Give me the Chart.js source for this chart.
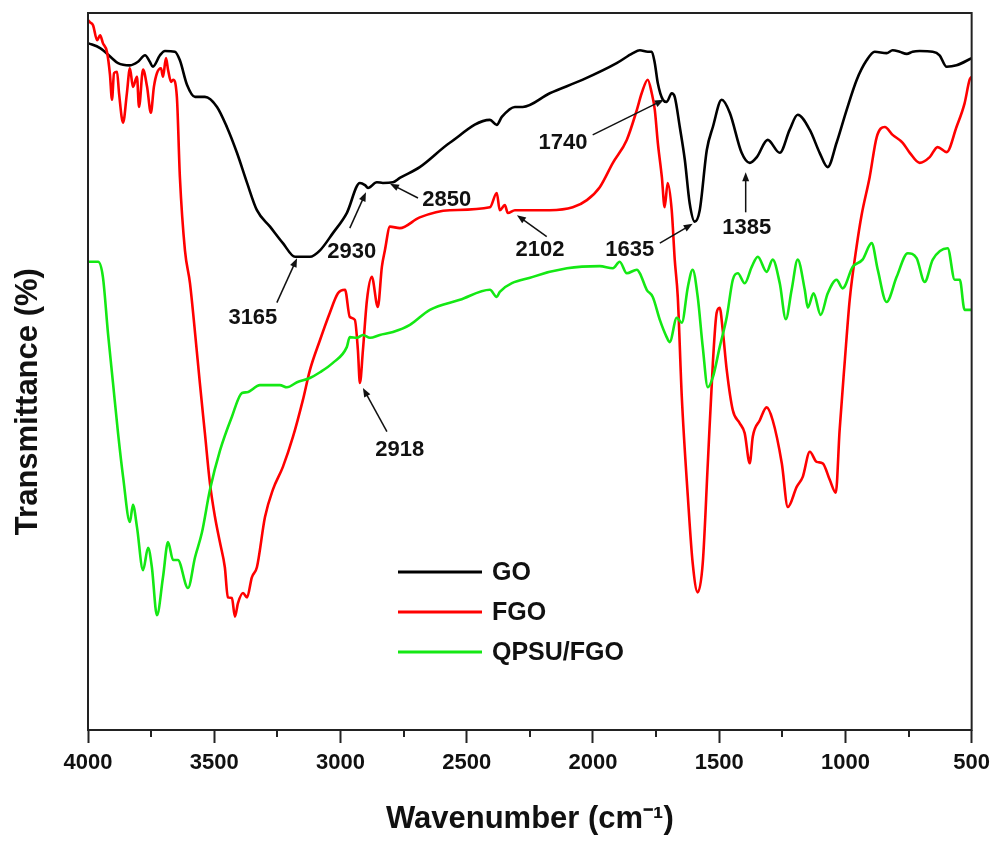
<!DOCTYPE html>
<html><head><meta charset="utf-8">
<script src="https://cdn.jsdelivr.net/npm/chart.js@4"></script>
<style>html,body{margin:0;padding:0;background:#fff;}canvas{display:block;}</style>
</head><body>
<canvas id="c" width="997" height="842"></canvas>
<script>
const seriesNames = ['GO', 'FGO', 'QPSU/FGO'];

const goWavenumber = [4000,3952,3905,3881,3834,3802,3774,3755,3743,3715,3695,3656,3636,3608,3576,3537,3489,3450,3410,3370,3331,3279,3228,3180,3121,3081,3030,2975,2923,2903,2891,2856,2832,2792,2765,2686,2567,2408,2381,2361,2309,2278,2171,2040,1906,1842,1814,1783,1767,1755,1743,1723,1708,1688,1676,1656,1636,1617,1597,1577,1549,1525,1490,1458,1411,1379,1351,1308,1260,1221,1189,1141,1102,1070,1035,995,955,916,884,837,813,785,757,734,706,654,627,599,560,500];
const goTransmittance = [95.8,95.1,93.7,93.0,92.7,93.2,94.1,93.2,92.5,94.1,94.7,94.6,93.4,90.0,88.3,88.3,86.9,84.1,80.5,76.3,72.5,70.2,67.9,66.0,66.0,66.9,69.3,72.1,76.3,76.0,75.6,76.4,76.3,76.4,77.0,78.5,81.9,85.1,84.4,85.5,86.9,86.9,88.8,90.7,93.0,94.4,94.8,94.6,94.6,93.0,90.2,87.9,87.6,88.8,88.3,84.1,79.5,73.5,70.9,72.5,80.9,84.1,87.9,86.1,80.5,79.1,79.9,82.3,80.5,83.7,85.8,83.7,80.5,78.5,81.9,86.5,90.7,93.4,94.6,94.4,94.8,94.6,94.3,94.6,94.7,94.6,94.1,92.5,92.7,93.7];

const fgoWavenumber = [4000,3992,3980,3964,3952,3941,3925,3913,3905,3897,3885,3877,3861,3846,3834,3822,3806,3798,3782,3766,3751,3739,3727,3711,3703,3691,3683,3671,3663,3648,3636,3616,3596,3576,3557,3537,3517,3497,3477,3458,3446,3430,3418,3406,3386,3370,3351,3331,3299,3268,3228,3188,3149,3121,3081,3042,3010,2982,2963,2943,2931,2923,2911,2895,2876,2852,2836,2824,2804,2765,2686,2567,2408,2381,2369,2349,2337,2309,2171,2080,2024,1973,1921,1866,1826,1807,1783,1767,1755,1743,1727,1716,1704,1688,1676,1664,1648,1624,1605,1585,1565,1545,1525,1510,1498,1486,1470,1446,1419,1399,1379,1367,1339,1312,1288,1252,1228,1193,1169,1141,1114,1090,1062,1038,1023,1003,983,955,936,904,876,844,813,773,745,706,666,635,599,560,528,508,500];
const fgoTransmittance = [99.0,98.7,98.3,96.2,96.9,95.8,94.6,91.4,87.9,91.6,91.8,88.8,84.7,88.8,92.3,89.7,91.1,86.9,92.1,89.7,86.1,89.7,91.6,92.3,91.1,93.7,92.1,90.4,90.7,88.3,77.1,66.9,62.3,55.4,48.4,41.4,34.4,29.7,26.1,22.7,18.5,18.4,15.8,17.7,19.1,18.5,21.3,22.7,29.7,33.5,36.7,40.9,46.0,50.2,54.4,58.2,60.9,61.4,57.6,57.2,53.0,48.4,53.0,60.0,63.2,59.0,64.6,66.9,70.2,70.0,71.5,72.5,72.9,74.9,72.5,73.2,72.1,72.5,72.5,72.9,73.9,75.7,79.1,82.3,86.5,88.8,90.7,88.8,86.5,81.9,77.1,72.9,76.3,72.5,65.6,60.4,46.4,32.5,23.3,19.2,23.3,37.2,51.2,58.2,58.9,55.8,50.2,44.6,42.8,41.4,37.2,40.9,43.2,45.0,43.2,37.2,31.1,33.9,35.3,38.8,37.4,37.2,34.9,33.1,41.8,51.2,60.0,67.6,71.8,77.1,82.7,84.1,83.0,81.9,80.5,79.1,79.9,81.3,80.6,84.1,87.4,90.7,91.1];

const qpsuWavenumber = [4000,3960,3941,3921,3901,3881,3861,3834,3822,3806,3782,3762,3747,3727,3703,3683,3663,3644,3604,3576,3549,3517,3477,3430,3390,3370,3319,3240,3212,3172,3121,3081,3030,2975,2963,2935,2911,2883,2844,2792,2725,2646,2527,2408,2381,2369,2238,2103,1973,1921,1894,1866,1826,1814,1787,1763,1735,1708,1696,1668,1648,1624,1605,1585,1565,1545,1525,1498,1470,1446,1426,1399,1371,1347,1312,1288,1260,1236,1213,1189,1161,1149,1126,1098,1070,1035,1011,971,932,896,872,837,797,753,718,686,654,595,567,547,528,500];
const qpsuTransmittance = [65.3,65.3,63.2,55.4,48.4,41.4,35.3,29.0,31.4,28.3,22.3,25.4,22.7,16.0,21.3,26.2,23.7,23.7,19.8,24.1,27.5,33.5,39.0,43.7,47.0,47.1,48.1,48.1,47.8,48.5,49.1,49.9,51.2,53.4,54.8,54.7,55.1,54.7,55.1,55.5,56.5,58.6,60.0,61.4,60.4,61.1,63.2,64.4,64.7,64.4,65.3,63.7,64.2,63.7,61.4,60.4,57.2,54.8,54.1,57.5,56.8,61.8,64.2,60.4,53.4,47.8,49.2,53.4,57.6,62.8,63.7,62.3,64.6,66.0,63.9,65.6,62.3,57.3,61.4,65.6,61.4,58.9,60.9,57.9,60.9,62.8,61.6,64.6,65.6,67.9,64.2,59.7,63.2,66.5,65.8,62.5,65.6,67.2,62.8,62.8,58.6,58.6];

const xTickLabels = [4000, 3500, 3000, 2500, 2000, 1500, 1000, 500];

const peakLabels = ['3165', '2930', '2850', '2918', '2102', '1740', '1635', '1385'];
const peakTextAt = [[3347,57.5],[2955,66.7],[2579,73.9],[2765,39.0],[2210,66.9],[2119,81.9],[1854,66.9],[1391,70.0]];
const peakArrowFrom = [[3252,59.6],[2963,70.0],[2693,74.2],[2816,41.6],[2183,68.8],[2001,83.0],[1735,67.9],[1395,72.2]];
const peakArrowTo = [[3172,65.8],[2899,75.0],[2804,76.2],[2911,47.7],[2301,71.8],[1719,87.9],[1605,70.6],[1395,77.8]];

const colors = ['#000000', '#ff0000', '#14e814'];
const FONT = '"Liberation Sans", Arial, Helvetica, sans-serif';

function pts(xs, ys) { return xs.map((x, i) => ({x: x, y: ys[i]})); }

const datasets = [
  {label: seriesNames[0], data: pts(goWavenumber, goTransmittance)},
  {label: seriesNames[1], data: pts(fgoWavenumber, fgoTransmittance)},
  {label: seriesNames[2], data: pts(qpsuWavenumber, qpsuTransmittance)}
].map((d, i) => Object.assign(d, {
  borderColor: colors[i], backgroundColor: colors[i], borderWidth: 2.6,
  pointRadius: 0, fill: false, cubicInterpolationMode: 'monotone', order: 3 - i
}));

const framePlugin = {
  id: 'frameAndNotes',
  afterDatasetsDraw(chart) {
    const {ctx, chartArea: a, scales: {x, y}} = chart;
    ctx.save();
    ctx.strokeStyle = '#222';
    ctx.lineWidth = 2;
    ctx.strokeRect(a.left, a.top, a.right - a.left, a.bottom - a.top);
    // minor ticks
    x.ticks.forEach(t => {
      if (!xTickLabels.includes(t.value)) {
        const px = Math.round(x.getPixelForValue(t.value));
        ctx.beginPath(); ctx.moveTo(px, a.bottom); ctx.lineTo(px, a.bottom + 7); ctx.stroke();
      }
    });
    // peak annotations
    ctx.fillStyle = '#111';
    ctx.strokeStyle = '#111';
    ctx.font = 'bold 22px ' + FONT;
    ctx.textAlign = 'center';
    ctx.textBaseline = 'middle';
    peakLabels.forEach((lab, i) => {
      ctx.fillText(lab, x.getPixelForValue(peakTextAt[i][0]), y.getPixelForValue(peakTextAt[i][1]));
      const fx = x.getPixelForValue(peakArrowFrom[i][0]), fy = y.getPixelForValue(peakArrowFrom[i][1]);
      const ex = x.getPixelForValue(peakArrowTo[i][0]), ey = y.getPixelForValue(peakArrowTo[i][1]);
      const ang = Math.atan2(ey - fy, ex - fx), L = 9, W = 3.5;
      ctx.lineWidth = 1.5;
      ctx.beginPath(); ctx.moveTo(fx, fy);
      ctx.lineTo(ex - L * 0.6 * Math.cos(ang), ey - L * 0.6 * Math.sin(ang)); ctx.stroke();
      ctx.beginPath(); ctx.moveTo(ex, ey);
      ctx.lineTo(ex - L * Math.cos(ang) + W * Math.sin(ang), ey - L * Math.sin(ang) - W * Math.cos(ang));
      ctx.lineTo(ex - L * Math.cos(ang) - W * Math.sin(ang), ey - L * Math.sin(ang) + W * Math.cos(ang));
      ctx.closePath(); ctx.fill();
    });
    // legend
    const lx0 = a.left + 310, lx1 = a.left + 394, tx = a.left + 404;
    ctx.font = 'bold 25px ' + FONT;
    ctx.textAlign = 'left';
    chart.data.datasets.forEach((d, i) => {
      const ly = a.top + 559 + i * 40;
      ctx.strokeStyle = d.borderColor; ctx.lineWidth = 3;
      ctx.beginPath(); ctx.moveTo(lx0, ly); ctx.lineTo(lx1, ly); ctx.stroke();
      ctx.fillStyle = '#111';
      ctx.fillText(d.label, tx, ly + 1);
    });
    ctx.restore();
  }
};

new Chart(document.getElementById('c'), {
  type: 'line',
  data: {datasets: datasets},
  plugins: [framePlugin],
  options: {
    responsive: false,
    animation: false,
    layout: {padding: {top: 13, right: 25, bottom: 2, left: 0}},
    plugins: {legend: {display: false}, tooltip: {enabled: false}},
    scales: {
      x: {
        type: 'linear', reverse: true, min: 500, max: 4000,
        border: {display: false},
        grid: {
          drawOnChartArea: false, drawTicks: true, tickLength: 13, tickWidth: 2,
          tickColor: c => (c.tick && xTickLabels.includes(c.tick.value)) ? '#222' : 'rgba(0,0,0,0)'
        },
        ticks: {
          stepSize: 250, autoSkip: false, maxRotation: 0, padding: 7, color: '#111',
          font: {family: FONT, size: 22, weight: 'bold'},
          callback: v => xTickLabels.includes(v) ? String(v) : ''
        },
        title: {display: true, text: 'Wavenumber (cm\u207B\u00B9)', color: '#111',
          font: {family: FONT, size: 31, weight: 'bold'}, padding: {top: 0, bottom: 2}},
        afterFit: s => { s.height = 110; }
      },
      y: {
        min: 0, max: 100,
        border: {display: false},
        grid: {display: false, drawTicks: false},
        ticks: {display: false},
        title: {display: true, text: 'Transmittance (%)\u00A0\u00A0\u00A0\u00A0\u00A0\u00A0\u00A0', color: '#111',
          font: {family: FONT, size: 31, weight: 'bold'}, padding: {top: 10, bottom: 0}},
        afterFit: s => { s.width = 88; }
      }
    }
  }
});
</script>
</body></html>
